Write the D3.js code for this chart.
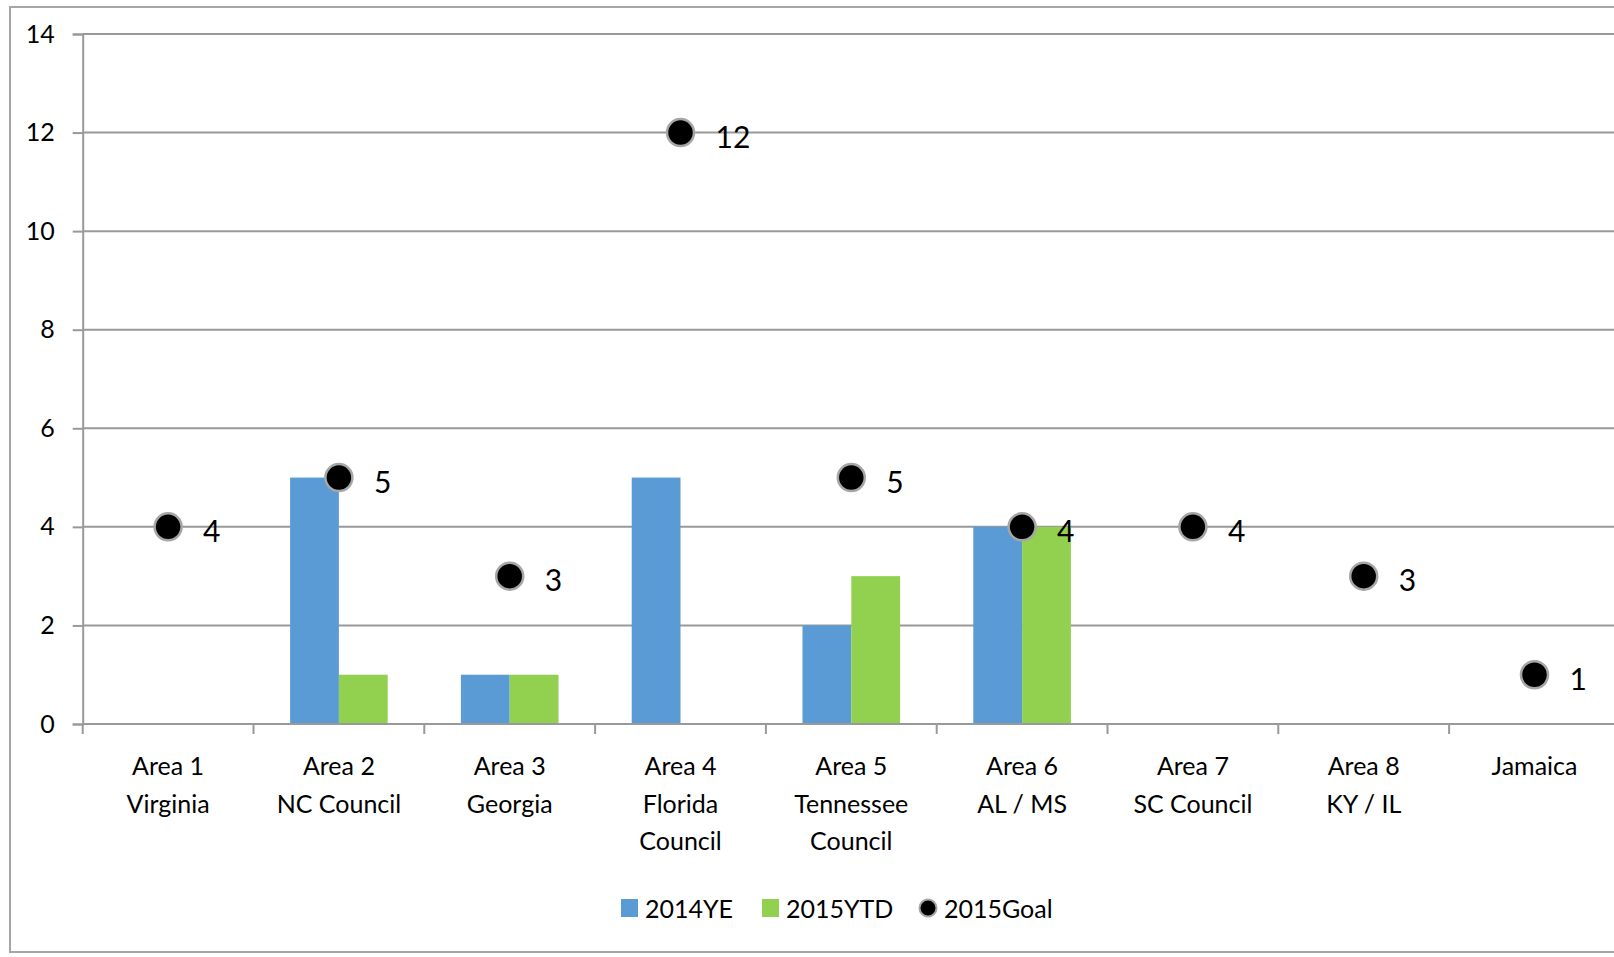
<!DOCTYPE html>
<html><head><meta charset="utf-8">
<script src="https://cdn.jsdelivr.net/npm/d3@7"></script>
<style>html,body{margin:0;padding:0;background:#fff;overflow:hidden}text{font-family:Lato,"Open Sans",sans-serif}</style>
</head><body><svg id="c" width="1614" height="957"></svg>
<script>
const categories = [["Area 1","Virginia"],["Area 2","NC Council"],["Area 3","Georgia"],["Area 4","Florida","Council"],["Area 5","Tennessee","Council"],["Area 6","AL / MS"],["Area 7","SC Council"],["Area 8","KY / IL"],["Jamaica"]];
const catKeys = categories.map(c=>c.join(" "));
const ye2014 = [0,5,1,5,2,4,0,0,0];
const ytd2015 = [0,1,1,0,3,4,0,0,0];
const goal2015 = [4,5,3,12,5,4,4,3,1];
const yTicks = [0,2,4,6,8,10,12,14];
const seriesNames = ["2014YE","2015YTD","2015Goal"];
const colors = {"2014YE":"#5B9BD5","2015YTD":"#92D050"};

(function(){
const svg = d3.select("#c");
// outer border
svg.append("rect").attr("x",10).attr("y",7).attr("width",1620).attr("height",945)
  .attr("fill","#fff").attr("stroke","#A6A6A6").attr("stroke-width",2);

const pLeft=82.7, pRight=82.7+9*170.8, pTop=34, pBottom=724;
const x = d3.scaleBand().domain(catKeys).range([pLeft,pRight]).paddingInner(0).paddingOuter(0);
const y = d3.scaleLinear().domain([0,14]).range([pBottom,pTop]);
const bw = x.bandwidth()/3.5;

// gridlines
svg.append("g").selectAll("line").data(yTicks.filter(t=>t>0)).join("line")
  .attr("x1",pLeft).attr("x2",pRight).attr("y1",d=>y(d)).attr("y2",d=>y(d))
  .attr("stroke","#999").attr("stroke-width",2);

// bars
const g = svg.append("g");
g.selectAll("rect.a").data(ye2014).join("rect").attr("class","a")
  .attr("x",(d,i)=>x(catKeys[i])+x.bandwidth()/2-bw).attr("width",bw)
  .attr("y",d=>y(d)).attr("height",d=>pBottom-y(d)).attr("fill",colors["2014YE"]);
g.selectAll("rect.b").data(ytd2015).join("rect").attr("class","b")
  .attr("x",(d,i)=>x(catKeys[i])+x.bandwidth()/2).attr("width",bw)
  .attr("y",d=>y(d)).attr("height",d=>pBottom-y(d)).attr("fill",colors["2015YTD"]);

// axes
const yAxis = d3.axisLeft(y).tickValues(yTicks).tickSize(10).tickPadding(18).tickFormat(d3.format("d"));
const ya = svg.append("g").attr("transform",`translate(${pLeft},0)`).call(yAxis);
ya.select(".domain").attr("stroke","#999").attr("stroke-width",2);
ya.selectAll(".tick line").attr("stroke","#999").attr("stroke-width",2);
ya.selectAll(".tick text").attr("font-size",25).attr("fill","#000").attr("font-family","Lato");

const xTickPos = d3.range(10).map(i=>pLeft+i*x.bandwidth());
svg.append("line").attr("x1",pLeft).attr("x2",pRight).attr("y1",pBottom).attr("y2",pBottom).attr("stroke","#999").attr("stroke-width",2);
svg.append("g").selectAll("line").data(xTickPos).join("line")
  .attr("x1",d=>d).attr("x2",d=>d).attr("y1",pBottom).attr("y2",pBottom+10).attr("stroke","#999").attr("stroke-width",2);

const cl = svg.append("g").selectAll("text").data(categories).join("text")
  .attr("x",(d,i)=>x(catKeys[i])+x.bandwidth()/2).attr("y",775)
  .attr("text-anchor","middle").attr("font-size",25).attr("fill","#000");
cl.selectAll("tspan").data(d=>d).join("tspan")
  .attr("x",function(){return d3.select(this.parentNode).attr("x");})
  .attr("dy",(d,i)=>i===0?0:37.5).text(d=>d);

// goal dots
svg.append("g").selectAll("circle").data(goal2015).join("circle")
  .attr("cx",(d,i)=>x(catKeys[i])+x.bandwidth()/2).attr("cy",d=>y(d)).attr("r",13.5)
  .attr("fill","#000").attr("stroke","#A6A6A6").attr("stroke-width",2.5);
svg.append("g").selectAll("text").data(goal2015).join("text")
  .attr("x",(d,i)=>x(catKeys[i])+x.bandwidth()/2+35).attr("y",d=>y(d)+15)
  .attr("font-size",30).attr("fill","#000").text(d=>d);

// legend
const lg = svg.append("g");
lg.append("rect").attr("x",621).attr("y",899).attr("width",17).attr("height",18).attr("fill",colors["2014YE"]);
lg.append("text").attr("x",645).attr("y",918).attr("font-size",25).text(seriesNames[0]);
lg.append("rect").attr("x",762).attr("y",899).attr("width",17).attr("height",18).attr("fill",colors["2015YTD"]);
lg.append("text").attr("x",786).attr("y",918).attr("font-size",25).text(seriesNames[1]);
lg.append("circle").attr("cx",928).attr("cy",908).attr("r",8.5).attr("fill","#000").attr("stroke","#A6A6A6").attr("stroke-width",2);
lg.append("text").attr("x",944).attr("y",918).attr("font-size",25).text(seriesNames[2]);
})();
</script></body></html>
